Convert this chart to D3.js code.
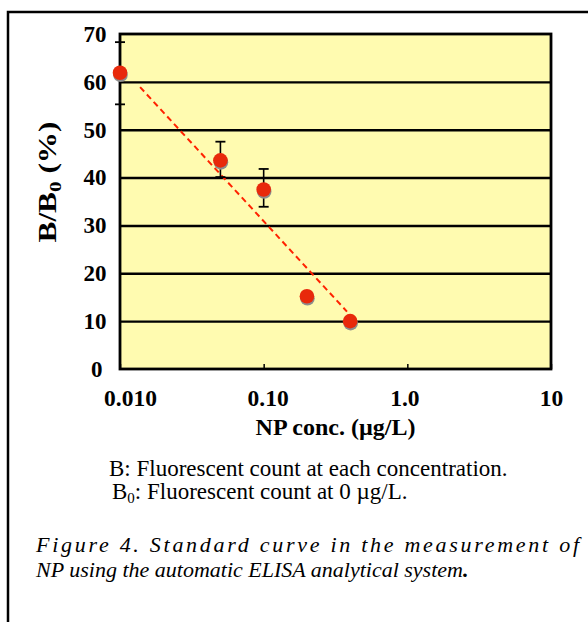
<!DOCTYPE html>
<html>
<head>
<meta charset="utf-8">
<script src="https://cdn.jsdelivr.net/npm/d3@7"></script>
<style>
  html, body { margin: 0; padding: 0; background: #ffffff; }
  svg { display: block; }
  text { font-family: "Liberation Serif", "Times New Roman", serif; }
</style>
</head>
<body>
<svg id="chart" width="588" height="622"></svg>
<script>
// ---- data ----
const xTickValues = [0.01, 0.1, 1, 10];
const xTickLabels = ["0.010", "0.10", "1.0", "10"];
const yTickValues = [0, 10, 20, 30, 40, 50, 60, 70];
const gridValues = [10, 20, 30, 40, 50, 60];
const conc = [0.01, 0.05, 0.1, 0.2, 0.4];
const ratio = [61.9, 43.6, 37.5, 15.2, 10.0];
const errLow = [55.3, 40.1, 33.9, null, null];
const errHigh = [68.3, 47.5, 41.8, null, null];
const fitConc = [0.0138, 0.38];
const fitRatio = [58.9, 12.0];
const xTitle = "NP conc. (\u00b5g/L)";
const noteLines = ["B: Fluorescent count at each concentration.", "Fluorescent count at 0 \u00b5g/L."];
const captionLines = ["Figure 4. Standard curve in the measurement of", "NP using the automatic ELISA analytical system"];

// ---- layout ----
const svg = d3.select("#chart");
const L = 120, T = 34, R = 551, B = 369;
const FONT = "'Liberation Serif', 'Times New Roman', serif";

// outer frame
svg.append("rect").attr("x", 8).attr("y", 12).attr("width", 620).attr("height", 700)
  .attr("fill", "none").attr("stroke", "#000").attr("stroke-width", 2.5);

const x = d3.scaleLog().domain([0.01, 10]).range([L, R]);
const y = d3.scaleLinear().domain([0, 70]).range([B, T]);

// plot background
svg.append("rect").attr("x", L).attr("y", T).attr("width", R - L).attr("height", B - T)
  .attr("fill", "#fffbb0");

// gridlines
svg.append("g").attr("transform", `translate(${L},0)`)
  .call(d3.axisLeft(y).tickValues(gridValues).tickSize(-(R - L)).tickFormat(""))
  .call(g => g.select(".domain").remove())
  .call(g => g.selectAll("line").attr("stroke", "#000").attr("stroke-width", 2.4));

// plot border
svg.append("rect").attr("x", L).attr("y", T).attr("width", R - L).attr("height", B - T)
  .attr("fill", "none").attr("stroke", "#000").attr("stroke-width", 2.8);

// y axis labels
const yAxis = svg.append("g").attr("transform", `translate(${L},0)`)
  .call(d3.axisLeft(y).tickValues(yTickValues).tickSize(0).tickPadding(13.5).tickFormat(d3.format("d")));
yAxis.select(".domain").remove();
yAxis.selectAll("text").attr("font-size", 23).attr("font-weight", "bold")
  .attr("font-family", FONT).attr("fill", "#000")
  .attr("dx", d => d === 0 ? -4 : 0);

// x axis
const xAxis = svg.append("g").attr("transform", `translate(0,${B})`)
  .call(d3.axisBottom(x).tickValues(xTickValues).tickSizeInner(-5).tickSizeOuter(0).tickPadding(20)
    .tickFormat((d, i) => xTickLabels[i]));
xAxis.select(".domain").remove();
xAxis.selectAll("line").attr("stroke", "#000").attr("stroke-width", 1.5);
xAxis.selectAll("text").attr("font-size", 23.5).attr("font-weight", "bold")
  .attr("font-family", FONT).attr("fill", "#000")
  .attr("dx", (d, i) => [10, 4, -3, 0][i]);

// axis titles
svg.append("text").attr("x", (L + R) / 2).attr("y", 435).attr("text-anchor", "middle")
  .attr("font-size", 24).attr("font-weight", "bold").text(xTitle);

const yt = svg.append("text").attr("transform", "translate(56,182) rotate(-90) scale(1.25,1)")
  .attr("text-anchor", "middle").attr("font-size", 25).attr("font-weight", "bold");
yt.append("tspan").text("B/B");
yt.append("tspan").attr("font-size", 17).attr("dy", 5).text("0");
yt.append("tspan").attr("dy", -5).text(" (%)");

// fit line
svg.append("path")
  .attr("d", d3.line().x(d => x(d[0])).y(d => y(d[1]))(d3.zip(fitConc, fitRatio)))
  .attr("stroke", "#ff2200").attr("stroke-width", 2).attr("stroke-dasharray", "6,4")
  .attr("fill", "none");

// error bars
const pts = conc.map((c, i) => ({c, v: ratio[i], lo: errLow[i], hi: errHigh[i]}));
const eb = svg.append("g").selectAll("g").data(pts.filter(d => d.lo != null)).join("g");
eb.append("line").attr("x1", d => x(d.c)).attr("x2", d => x(d.c))
  .attr("y1", d => y(d.lo)).attr("y2", d => y(d.hi)).attr("stroke", "#000").attr("stroke-width", 1.6);
eb.append("line").attr("x1", d => x(d.c) - 5).attr("x2", d => x(d.c) + 5)
  .attr("y1", d => y(d.hi)).attr("y2", d => y(d.hi)).attr("stroke", "#000").attr("stroke-width", 1.8);
eb.append("line").attr("x1", d => x(d.c) - 5).attr("x2", d => x(d.c) + 5)
  .attr("y1", d => y(d.lo)).attr("y2", d => y(d.lo)).attr("stroke", "#000").attr("stroke-width", 1.8);

// markers with shadow
svg.append("g").selectAll("circle").data(pts).join("circle")
  .attr("cx", d => x(d.c) + 0.5).attr("cy", d => y(d.v) + 2).attr("r", 7.3).attr("fill", "#8c8c8c");
svg.append("g").selectAll("circle").data(pts).join("circle")
  .attr("cx", d => x(d.c)).attr("cy", d => y(d.v)).attr("r", 7.3).attr("fill", "#e8290b");

// notes
svg.append("text").attr("x", 109).attr("y", 476).attr("font-size", 23).text(noteLines[0]);
const n2 = svg.append("text").attr("x", 112).attr("y", 499).attr("font-size", 23);
n2.append("tspan").text("B");
n2.append("tspan").attr("font-size", 15).attr("dy", 4).text("0");
n2.append("tspan").attr("dy", -4).text(": " + noteLines[1]);

// figure caption
svg.append("text").attr("x", 36).attr("y", 552).attr("font-size", 22).attr("font-style", "italic")
  .attr("textLength", 543).attr("lengthAdjust", "spacing").text(captionLines[0]);
const c2 = svg.append("text").attr("x", 36).attr("y", 577).attr("font-size", 22).attr("font-style", "italic");
c2.append("tspan").text(captionLines[1]);
c2.append("tspan").attr("font-weight", "bold").text(".");
</script>
</body>
</html>
